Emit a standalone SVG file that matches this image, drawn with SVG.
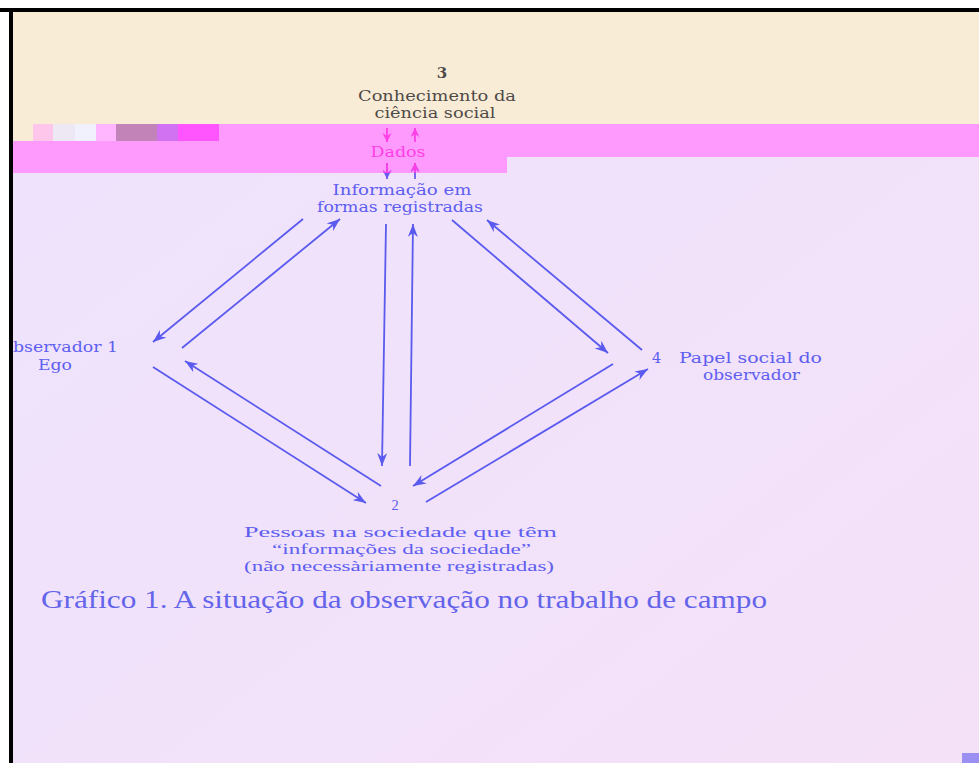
<svg xmlns="http://www.w3.org/2000/svg" width="979" height="763" viewBox="0 0 979 763">
<defs>
<style>
.lbl{font-family:"DejaVu Serif","Liberation Serif",serif;font-size:14.5px;fill:#5e5ef0;}
.low{font-family:"Liberation Serif",serif;font-size:14.5px;fill:#5e5ef0;}
.cap{font-family:"Liberation Serif",serif;font-size:26px;fill:#6464ea;}
.dark{font-family:"DejaVu Serif","Liberation Serif",serif;font-size:15px;fill:#4e4a48;}
.mag{font-family:"DejaVu Serif","Liberation Serif",serif;font-size:15px;fill:#ff3fe6;}
.con{stroke:#5a5aee;stroke-width:1.8;fill:none;marker-end:url(#ah);}
.mcon{stroke:#ff3fe6;stroke-width:1.8;fill:none;marker-end:url(#mh);}
.bcon{stroke:#6a5cf0;stroke-width:1.8;fill:none;marker-end:url(#bh);}
</style>
<linearGradient id="bg" x1="0" y1="0" x2="1" y2="1">
<stop offset="0" stop-color="#eee3fd"/>
<stop offset="1" stop-color="#f4e1f8"/>
</linearGradient>
<marker id="ah" markerUnits="userSpaceOnUse" markerWidth="14" markerHeight="10" refX="13" refY="5" orient="auto">
<path d="M0,0 L13,5 L0,10 L4,5 Z" fill="#5a5aee"/>
</marker>
<marker id="mh" markerUnits="userSpaceOnUse" markerWidth="10" markerHeight="9" refX="9" refY="4.5" orient="auto">
<path d="M0,0 L9,4.5 L0,9 L3,4.5 Z" fill="#ff3fe6"/>
</marker>
<marker id="bh" markerUnits="userSpaceOnUse" markerWidth="10" markerHeight="9" refX="9" refY="4.5" orient="auto">
<path d="M0,0 L9,4.5 L0,9 L3,4.5 Z" fill="#6a5cf0"/>
</marker>
<clipPath id="inband"><rect x="0" y="124" width="979" height="49"/></clipPath>
</defs>

<!-- page background -->
<rect x="0" y="0" width="979" height="763" fill="#ffffff"/>
<rect x="13" y="12" width="966" height="751" fill="url(#bg)"/>
<rect x="13" y="12" width="966" height="129" fill="#f9ecd6"/>
<path d="M219,124 H979 V157 H507 V173 H13 V141 H219 Z" fill="#fe9afe"/>
<rect x="33" y="124" width="20" height="17" fill="#ffc6ec"/>
<rect x="53" y="124" width="22" height="17" fill="#eee8f5"/>
<rect x="75" y="124" width="21" height="17" fill="#f1f0fd"/>
<rect x="96" y="124" width="20" height="17" fill="#ffb6ff"/>
<rect x="116" y="124" width="41" height="17" fill="#c283b9"/>
<rect x="157" y="124" width="21" height="17" fill="#d072f2"/>
<rect x="178" y="124" width="41" height="17" fill="#ff55ff"/>
<rect x="962" y="753" width="17" height="10" fill="#9b8ff2"/>
<rect x="0" y="8" width="979" height="4" fill="#000000"/>
<rect x="9" y="8" width="4" height="755" fill="#000000"/>

<g id="connectors">
<line class="con" x1="303" y1="219" x2="153" y2="342"/>
<line class="con" x1="182" y1="348" x2="340" y2="219"/>
<line class="con" x1="153" y1="367" x2="366" y2="503"/>
<line class="con" x1="381" y1="486" x2="185" y2="361"/>
<line class="con" x1="386" y1="224" x2="382" y2="466"/>
<line class="con" x1="410" y1="466" x2="413" y2="224"/>
<line class="con" x1="452" y1="220" x2="608" y2="353"/>
<line class="con" x1="642" y1="350" x2="487" y2="220"/>
<line class="con" x1="613" y1="364" x2="413" y2="486"/>
<line class="con" x1="426" y1="502" x2="648" y2="369"/>
<line class="mcon" x1="387" y1="128" x2="387" y2="142"/>
<line class="mcon" x1="415" y1="142" x2="415" y2="128"/>
<line class="bcon" x1="387" y1="163" x2="387" y2="179"/>
<line class="bcon" x1="415" y1="179" x2="415" y2="163"/>
<g clip-path="url(#inband)">
<line class="mcon" x1="387" y1="163" x2="387" y2="179"/>
<line class="mcon" x1="415" y1="179" x2="415" y2="163"/>
</g>
</g>

<g id="node-3">
<text class="dark" x="442" y="78" text-anchor="middle" font-size="11" font-weight="bold">3</text>
<text class="dark" x="437" y="101" text-anchor="middle" textLength="158" lengthAdjust="spacingAndGlyphs">Conhecimento da</text>
<text class="dark" x="435" y="118" text-anchor="middle" textLength="121" lengthAdjust="spacingAndGlyphs">ciência social</text>
</g>

<g id="node-dados">
<text class="mag" x="398" y="157" text-anchor="middle" textLength="55" lengthAdjust="spacingAndGlyphs">Dados</text>
</g>

<g id="node-info">
<text class="lbl" x="402" y="195" text-anchor="middle" textLength="139" lengthAdjust="spacingAndGlyphs">Informação em</text>
<text class="lbl" x="400" y="212" text-anchor="middle" textLength="166" lengthAdjust="spacingAndGlyphs">formas registradas</text>
</g>

<g id="node-1">
<text class="lbl" x="13" y="352" textLength="105" lengthAdjust="spacingAndGlyphs">bservador 1</text>
<text class="lbl" x="55" y="370" text-anchor="middle" textLength="34" lengthAdjust="spacingAndGlyphs">Ego</text>
</g>

<g id="node-4">
<text class="lbl" x="652" y="363">4</text>
<text class="lbl" x="679" y="363" textLength="143" lengthAdjust="spacingAndGlyphs">Papel social do</text>
<text class="lbl" x="703" y="380" textLength="97" lengthAdjust="spacingAndGlyphs">observador</text>
</g>

<g id="node-2">
<text class="low" x="395" y="510" text-anchor="middle" font-size="15">2</text>
<text class="low" x="244" y="537" textLength="313" lengthAdjust="spacingAndGlyphs">Pessoas na sociedade que têm</text>
<text class="low" x="272" y="554" textLength="259" lengthAdjust="spacingAndGlyphs">“informações da sociedade”</text>
<text class="low" x="244" y="571" textLength="310" lengthAdjust="spacingAndGlyphs">(não necessàriamente registradas)</text>
</g>

<g id="caption">
<text class="cap" x="41" y="608" textLength="726" lengthAdjust="spacingAndGlyphs">Gráfico 1.  A situação da observação no trabalho de campo</text>
</g>
</svg>
